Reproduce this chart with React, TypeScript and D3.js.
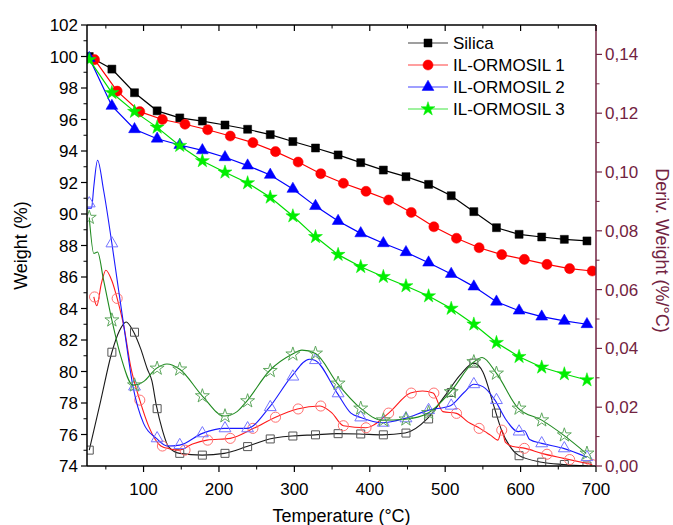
import React from "react";
import * as d3 from "d3";

// ---------- TG data (left axis, Weight %) ----------
const tgTempsA = [28, 58, 88, 118, 148, 178, 208, 238, 268, 298, 328, 358, 388, 418, 448, 478, 508, 538, 568, 598, 628, 658, 688];
const tgTempsB = [35, 65, 95, 125, 155, 185, 215, 245, 275, 305, 335, 365, 395, 425, 455, 485, 515, 545, 575, 605, 635, 665, 695];
const silicaTG = [100.0, 99.2, 97.7, 96.55, 96.1, 95.9, 95.65, 95.38, 95.04, 94.6, 94.19, 93.75, 93.26, 92.79, 92.37, 91.88, 91.16, 90.15, 89.13, 88.71, 88.54, 88.39, 88.29];
const ormosil1TG = [99.8, 97.8, 96.5, 96.0, 95.7, 95.35, 94.95, 94.53, 93.96, 93.3, 92.56, 91.95, 91.44, 90.89, 90.1, 89.19, 88.46, 87.86, 87.42, 87.12, 86.8, 86.53, 86.38];
const ormosil2TG = [99.9, 96.86, 95.38, 94.78, 94.38, 94.04, 93.6, 93.07, 92.48, 91.59, 90.5, 89.55, 88.77, 88.14, 87.57, 86.91, 86.19, 85.39, 84.43, 83.86, 83.48, 83.21, 83.0];
const ormosil3TG = [99.8, 97.7, 96.5, 95.5, 94.34, 93.37, 92.65, 91.97, 91.06, 89.87, 88.55, 87.42, 86.65, 86.02, 85.43, 84.79, 84.0, 83.0, 81.83, 80.94, 80.27, 79.84, 79.46];

// ---------- DTG data (right axis, %/°C) ----------
const silicaDT = [28, 43, 58, 68, 77, 86, 96, 105, 111, 117, 125, 133, 148, 178, 207, 237, 267, 297, 327, 356, 386, 417, 447, 476, 500, 520, 538, 550, 565, 575, 585, 597, 628, 657, 688];
const silicaDV = [0.0054, 0.022, 0.0387, 0.046, 0.049, 0.046, 0.04, 0.033, 0.029, 0.0205, 0.0122, 0.0066, 0.0043, 0.0037, 0.0043, 0.0066, 0.0092, 0.0102, 0.0106, 0.011, 0.0109, 0.0106, 0.0112, 0.016, 0.024, 0.031, 0.035, 0.032, 0.02, 0.012, 0.007, 0.0037, 0.0013, 0.0005, 0.0];
const silicaDM = [0.0054, 0.0387, 0.0455, 0.0195, 0.0043, 0.0037, 0.0043, 0.0066, 0.0092, 0.0102, 0.0106, 0.011, 0.0109, 0.0106, 0.0112, 0.016, 0.025, 0.035, 0.018, 0.0035, 0.0013, 0.0005, 0.0];

const orm1DT = [34, 38, 44, 50, 58, 65, 74, 83, 95, 107, 123, 135, 147, 165, 184, 215, 246, 275, 304, 334, 350, 365, 395, 425, 454, 470, 484, 497, 515, 530, 546, 560, 570, 575, 580, 590, 606, 628, 657, 695];
const orm1DV = [0.0575, 0.0545, 0.062, 0.0666, 0.063, 0.057, 0.0473, 0.0337, 0.0224, 0.0134, 0.0068, 0.0058, 0.0054, 0.0075, 0.0088, 0.0094, 0.0128, 0.0166, 0.0194, 0.0204, 0.018, 0.0137, 0.013, 0.018, 0.0248, 0.0255, 0.0248, 0.0185, 0.0179, 0.015, 0.0128, 0.0105, 0.0088, 0.0122, 0.008, 0.0066, 0.006, 0.0043, 0.0026, 0.0005];
const orm1DM = [0.0575, 0.057, 0.0224, 0.0068, 0.0054, 0.0088, 0.0094, 0.0128, 0.0166, 0.0194, 0.0204, 0.0137, 0.013, 0.018, 0.0248, 0.0248, 0.0179, 0.0128, 0.0122, 0.006, 0.004, 0.0022, 0.0005];

const orm2DT = [25, 31, 34, 39, 47, 58, 65, 74, 86, 100, 117, 131, 148, 178, 207, 237, 267, 296, 320, 327, 357, 375, 388, 417, 447, 478, 507, 525, 538, 550, 566, 580, 597, 605, 612, 628, 657, 688];
const orm2DV = [0.0877, 0.0877, 0.095, 0.104, 0.0938, 0.0757, 0.0632, 0.0473, 0.027, 0.0145, 0.0094, 0.0068, 0.0071, 0.0111, 0.0128, 0.0128, 0.02, 0.0304, 0.0363, 0.036, 0.0247, 0.018, 0.0165, 0.0147, 0.0162, 0.019, 0.0205, 0.025, 0.0278, 0.027, 0.0224, 0.016, 0.0117, 0.012, 0.009, 0.0077, 0.006, 0.003];
const orm2DM = [0.0893, 0.0757, 0.027, 0.0094, 0.0071, 0.0111, 0.0128, 0.0128, 0.02, 0.0304, 0.036, 0.0247, 0.0165, 0.0147, 0.0162, 0.019, 0.0205, 0.0278, 0.0224, 0.0117, 0.0077, 0.006, 0.003];

const orm3DT = [28, 34, 39, 47, 58, 70, 86, 100, 117, 131, 148, 178, 207, 224, 237, 267, 297, 310, 328, 357, 388, 416, 447, 478, 507, 538, 549, 568, 597, 628, 657, 687];
const orm3DV = [0.0845, 0.0723, 0.0728, 0.0632, 0.0496, 0.0371, 0.0275, 0.0287, 0.0332, 0.0347, 0.0329, 0.0238, 0.017, 0.0185, 0.0221, 0.0324, 0.038, 0.0394, 0.0383, 0.0281, 0.0196, 0.0156, 0.0159, 0.0181, 0.0252, 0.0354, 0.0369, 0.0315, 0.0196, 0.0156, 0.0105, 0.0043];
const orm3DM = [0.0845, 0.0496, 0.0275, 0.0332, 0.0329, 0.0238, 0.017, 0.0221, 0.0324, 0.038, 0.0383, 0.0281, 0.0196, 0.0156, 0.0159, 0.0181, 0.0252, 0.0354, 0.0315, 0.0196, 0.0156, 0.0105, 0.0043];

const seriesNames = ["Silica", "IL-ORMOSIL 1", "IL-ORMOSIL 2", "IL-ORMOSIL 3"];
const xTicks = [100, 200, 300, 400, 500, 600, 700];
const yLeftTicks = [74, 76, 78, 80, 82, 84, 86, 88, 90, 92, 94, 96, 98, 100, 102];
const yRightTicks = [0, 0.02, 0.04, 0.06, 0.08, 0.1, 0.12, 0.14];

const W = 673, H = 525;
const M = { left: 87, right: 596, top: 25, bottom: 466 };
const FONT = "'Liberation Sans', Arial, sans-serif";
const MAROON = "#722341";

type Shape = "square" | "circle" | "triangle" | "star";

function markerPath(shape: Shape, size: number): string {
  if (shape === "star") return d3.symbol(d3.symbolStar, size * size * 0.5)() as string;
  if (shape === "triangle") return d3.symbol(d3.symbolTriangle, size * size * 0.5)() as string;
  if (shape === "circle") return d3.symbol(d3.symbolCircle, size * size * 0.8)() as string;
  return d3.symbol(d3.symbolSquare, size * size)() as string;
}

export default function App() {
  const x = d3.scaleLinear().domain([25, 700]).range([M.left, M.right]);
  const yL = d3.scaleLinear().domain([74, 102]).range([M.bottom, M.top]);
  const yR = d3.scaleLinear().domain([0, 0.15]).range([M.bottom, M.top]);

  const tg = [
    { name: seriesNames[0], t: tgTempsA, v: silicaTG, color: "#000000", mfill: "#000000", shape: "square" as Shape, size: 8 },
    { name: seriesNames[1], t: tgTempsB, v: ormosil1TG, color: "#ff0000", mfill: "#ff0000", shape: "circle" as Shape, size: 10 },
    { name: seriesNames[2], t: tgTempsA, v: ormosil2TG, color: "#0000ff", mfill: "#0000ff", shape: "triangle" as Shape, size: 11 },
    { name: seriesNames[3], t: tgTempsA, v: ormosil3TG, color: "#00dd00", mfill: "#00ee00", shape: "star" as Shape, size: 11 },
  ];
  const dtg = [
    { t: silicaDT, v: silicaDV, mt: tgTempsA, mv: silicaDM, color: "#1a1a1a", mstroke: "#555555", shape: "square" as Shape, size: 8 },
    { t: orm1DT, v: orm1DV, mt: tgTempsB, mv: orm1DM, color: "#ff1a1a", mstroke: "#ff7070", shape: "circle" as Shape, size: 10 },
    { t: orm2DT, v: orm2DV, mt: tgTempsA, mv: orm2DM, color: "#1a1aff", mstroke: "#7575ff", shape: "triangle" as Shape, size: 11 },
    { t: orm3DT, v: orm3DV, mt: tgTempsA, mv: orm3DM, color: "#1f8a1f", mstroke: "#5fa85f", shape: "star" as Shape, size: 11 },
  ];

  const lineL = d3.line<[number, number]>().x((d) => x(d[0])).y((d) => yL(d[1]));
  const lineR = d3.line<[number, number]>().x((d) => x(d[0])).y((d) => yR(d[1])).curve(d3.curveMonotoneX);

  const xMinor = d3.range(50, 701, 100);
  const yLMinor = d3.range(75, 102, 2);
  const yRMinor = d3.range(0.01, 0.15, 0.02);

  return (
    <svg width={W} height={H} style={{ display: "block", position: "absolute", left: 0, top: 0, background: "#fff" }} fontFamily={FONT}>
      <rect x={0} y={0} width={W} height={H} fill="#fff" />
      <defs>
        <clipPath id="plotclip">
          <rect x={M.left} y={M.top} width={M.right - M.left} height={M.bottom - M.top} />
        </clipPath>
      </defs>

      {/* DTG curves */}
      <g clipPath="url(#plotclip)">
        {dtg.map((s, i) => (
          <g key={"d" + i}>
            <path d={lineR(s.t.map((t, j) => [t, s.v[j]] as [number, number])) as string} fill="none" stroke={s.color} strokeWidth={1.1} />
            {s.mt.map((t, j) => (
              <path key={j} d={markerPath(s.shape, s.size)} transform={`translate(${x(t)},${yR(s.mv[j])})`} fill="none" stroke={s.mstroke} strokeWidth={1} />
            ))}
          </g>
        ))}
      </g>

      {/* TG curves */}
      <g clipPath="url(#plotclip)">
        {tg.map((s, i) => (
          <g key={"t" + i}>
            <path d={lineL(s.t.map((t, j) => [t, s.v[j]] as [number, number])) as string} fill="none" stroke={s.color} strokeWidth={1.2} />
            {s.t.map((t, j) => (
              <path key={j} d={markerPath(s.shape, s.size)} transform={`translate(${x(t)},${yL(s.v[j])})`} fill={s.mfill} stroke={s.mfill} strokeWidth={0.5} />
            ))}
          </g>
        ))}
      </g>

      {/* frame */}
      <line x1={M.left} x2={M.right} y1={M.top} y2={M.top} stroke="#000" strokeWidth={1.5} />
      <line x1={M.left} x2={M.right} y1={M.bottom} y2={M.bottom} stroke="#000" strokeWidth={1.5} />
      <line x1={M.left} x2={M.left} y1={M.top} y2={M.bottom} stroke="#000" strokeWidth={1.5} />
      <line x1={M.right} x2={M.right} y1={M.top} y2={M.bottom} stroke={MAROON} strokeWidth={1.5} />

      {/* bottom axis */}
      {xTicks.map((t) => (
        <g key={"xt" + t}>
          <line x1={x(t)} x2={x(t)} y1={M.bottom} y2={M.bottom + 6} stroke="#000" strokeWidth={1.2} />
          <line x1={x(t)} x2={x(t)} y1={M.top} y2={M.top + 6} stroke="#000" strokeWidth={1.2} />
          <text x={x(t)} y={M.bottom + 29} textAnchor="middle" fontSize={17} fill="#000">{t}</text>
        </g>
      ))}
      {xMinor.map((t) => (
        <g key={"xm" + t}>
          <line x1={x(t)} x2={x(t)} y1={M.bottom} y2={M.bottom + 3.5} stroke="#000" strokeWidth={1} />
          <line x1={x(t)} x2={x(t)} y1={M.top} y2={M.top + 3.5} stroke="#000" strokeWidth={1} />
        </g>
      ))}
      <text x={(M.left + M.right) / 2} y={522} textAnchor="middle" fontSize={18} fill="#000">Temperature (°C)</text>

      {/* left axis */}
      {yLeftTicks.map((t) => (
        <g key={"yl" + t}>
          <line x1={M.left - 6} x2={M.left} y1={yL(t)} y2={yL(t)} stroke="#000" strokeWidth={1.2} />
          <text x={M.left - 9} y={yL(t) + 6} textAnchor="end" fontSize={17} fill="#000">{t}</text>
        </g>
      ))}
      {yLMinor.map((t) => (
        <line key={"ylm" + t} x1={M.left - 3.5} x2={M.left} y1={yL(t)} y2={yL(t)} stroke="#000" strokeWidth={1} />
      ))}
      <text transform={`translate(27,${(M.top + M.bottom) / 2}) rotate(-90)`} textAnchor="middle" fontSize={18} fill="#000">Weight (%)</text>

      {/* right axis */}
      {yRightTicks.map((t) => (
        <g key={"yr" + t}>
          <line x1={M.right} x2={M.right + 6} y1={yR(t)} y2={yR(t)} stroke={MAROON} strokeWidth={1.2} />
          <text x={M.right + 9} y={yR(t) + 6} textAnchor="start" fontSize={17} fill={MAROON}>{d3.format(".2f")(t).replace(".", ",")}</text>
        </g>
      ))}
      {yRMinor.map((t, i) => (
        <line key={"yrm" + i} x1={M.right} x2={M.right + 3.5} y1={yR(t)} y2={yR(t)} stroke={MAROON} strokeWidth={1} />
      ))}
      <text transform={`translate(656,${(M.top + M.bottom) / 2 + 5}) rotate(90)`} textAnchor="middle" fontSize={18} fill={MAROON}>Deriv. Weight (%/°C)</text>

      {/* legend */}
      {tg.map((s, i) => {
        const ly = 43 + i * 22;
        return (
          <g key={"lg" + i}>
            <line x1={408} x2={448} y1={ly} y2={ly} stroke={s.color} strokeWidth={1.2} opacity={0.75} />
            <path d={markerPath(s.shape, s.size)} transform={`translate(428,${ly})`} fill={s.mfill} stroke={s.mfill} strokeWidth={0.5} />
            <text x={453} y={ly + 6} fontSize={17} fill="#000">{s.name}</text>
          </g>
        );
      })}
    </svg>
  );
}
